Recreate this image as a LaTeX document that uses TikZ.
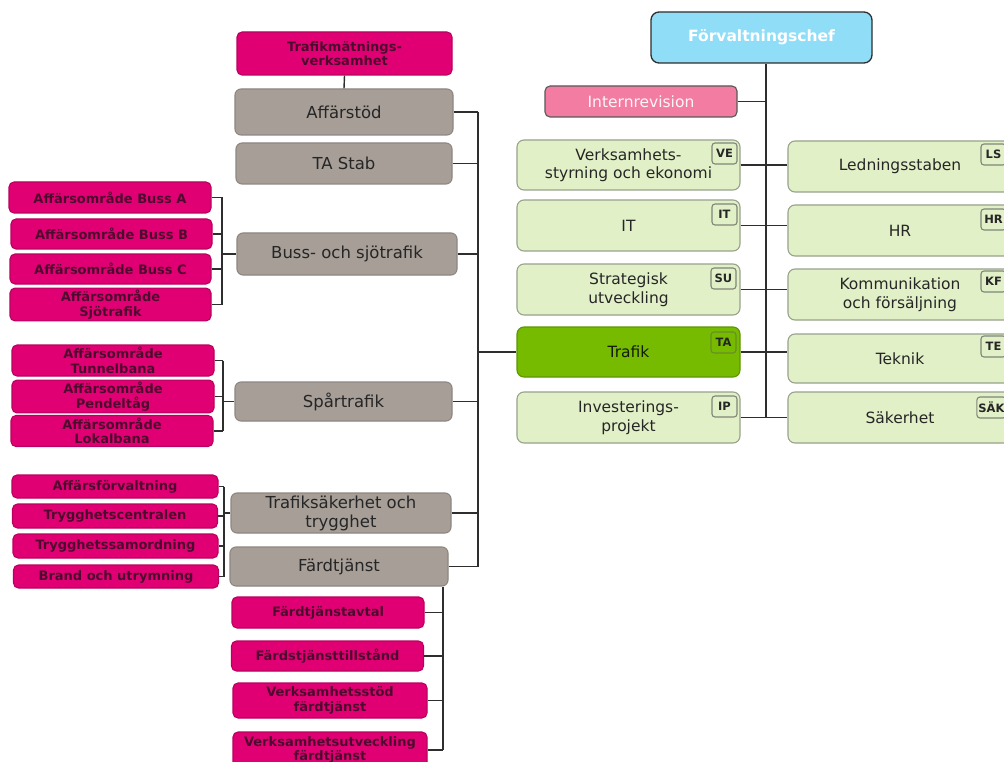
\documentclass[tikz,border=0pt]{standalone}
\usepackage{fontspec}
\setmainfont{DejaVu Sans}
\definecolor{pinkfill}{HTML}{E10074}
\definecolor{pinkborder}{HTML}{B8005E}
\definecolor{pinktext}{HTML}{4E0A2E}
\definecolor{grayfill}{HTML}{A69E97}
\definecolor{grayborder}{HTML}{8E8680}
\definecolor{graytext}{HTML}{262626}
\definecolor{lgreen}{HTML}{E2F0C8}
\definecolor{lgreenborder}{HTML}{98A28C}
\definecolor{badgeborder}{HTML}{7F8676}
\definecolor{dgreen}{HTML}{76BB00}
\definecolor{dgreenborder}{HTML}{5E9600}
\definecolor{cyanfill}{HTML}{90DDF8}
\definecolor{irfill}{HTML}{F37CA2}
\definecolor{linecol}{HTML}{2E2E2E}
\begin{document}
\begin{tikzpicture}[x=1pt,y=-1pt,
  box/.style={rounded corners=5pt, inner sep=2pt, align=center, draw, line width=1.1pt},
  pinkbox/.style={box, fill=pinkfill, draw=pinkborder, text=pinktext,
     font=\bfseries\fontsize{13}{14.5}\selectfont},
  graybox/.style={box, rounded corners=6pt, fill=grayfill, draw=grayborder, text=graytext,
     font=\fontsize{16.5}{19}\selectfont},
  greenbox/.style={box, rounded corners=7pt, fill=lgreen, draw=lgreenborder, text=graytext,
     font=\fontsize{15.5}{18.5}\selectfont},
  trafbox/.style={greenbox, fill=dgreen, draw=dgreenborder, text=black!85!dgreen},
  badge/.style={rounded corners=3pt, draw=badgeborder, fill=lgreen, line width=1.1pt,
     text=graytext, inner sep=1.5pt, minimum width=25, minimum height=21,
     font=\bfseries\fontsize{11.5}{12}\selectfont, anchor=north east},
  conn/.style={draw=linecol, line width=1.4pt}
]
\clip (0,0) rectangle (1004,762);
\fill[white] (0,0) rectangle (1004,762);

% ---------- top right ----------
\node[box, rounded corners=8pt, fill=cyanfill, draw=linecol, text=white, line width=1.3pt,
  minimum width=221, minimum height=51, font=\bfseries\fontsize{15.5}{18}\selectfont]
  (fc) at (761.5,37.5) {Förvaltningschef};
\node[box, fill=irfill, draw=linecol!80, text=white!92!irfill, minimum width=192, minimum height=31,
  font=\fontsize{15.5}{18}\selectfont] (ir) at (641,101.5) {Internrevision};

\node[greenbox, minimum width=223, minimum height=50] (ve) at (628.5,165) {Verksamhets-\\styrning och ekonomi};
\node[greenbox, minimum width=223, minimum height=51] (it) at (628.5,225.5) {IT};
\node[greenbox, minimum width=223, minimum height=51] (su) at (628.5,289.5) {Strategisk\\utveckling};
\node[trafbox, minimum width=223, minimum height=50] (tr) at (628.5,352) {Trafik};
\node[greenbox, minimum width=223, minimum height=51] (ip) at (628.5,417.5) {Investerings-\\projekt};

\node[badge] (veb) at ([xshift=-3pt,yshift=-3pt]ve.north east) {VE};
\node[badge] (itb) at ([xshift=-3pt,yshift=-4pt]it.north east) {IT};
\node[badge] (sub) at ([xshift=-4pt,yshift=-4pt]su.north east) {SU};
\node[badge, fill=dgreen, draw=dgreenborder!70!gray] (trb) at ([xshift=-4pt,yshift=-5pt]tr.north east) {TA};
\node[badge] (ipb) at ([xshift=-3pt,yshift=-4pt]ip.north east) {IP};

\node[greenbox, minimum width=224, minimum height=51] (ls) at (900,166.5) {Ledningsstaben};
\node[greenbox, minimum width=224, minimum height=51] (hr) at (900,230.5) {HR};
\node[greenbox, minimum width=224, minimum height=51] (kf) at (900,294.5) {Kommunikation\\och försäljning};
\node[greenbox, minimum width=224, minimum height=49] (te) at (900,358.5) {Teknik};
\node[greenbox, minimum width=224, minimum height=51] (sak) at (900,417.5) {Säkerhet};

\node[badge] (lsb) at ([xshift=-6pt,yshift=-3pt]ls.north east) {LS};
\node[badge] (hrb) at ([xshift=-6pt,yshift=-4pt]hr.north east) {HR};
\node[badge] (kfb) at ([xshift=-6pt,yshift=-2pt]kf.north east) {KF};
\node[badge] (teb) at ([xshift=-6pt,yshift=-2pt]te.north east) {TE};
\node[badge] (sakb) at ([xshift=-6pt,yshift=-5pt]sak.north east) {SÄK};

\coordinate (vt) at ([xshift=4.5pt]fc.south);
\draw[conn] (vt) -- (vt |- ip.east);
\draw[conn] (ir.east) -- (vt |- ir.east);
\draw[conn] (ve.east) -- (ls.west |- ve.east);
\draw[conn] (it.east) -- (hr.west |- it.east);
\draw[conn] (su.east) -- (kf.west |- su.east);
\draw[conn] (tr.east) -- (te.west |- tr.east);
\draw[conn] (ip.east) -- (sak.west |- ip.east);

% ---------- gray column ----------
\node[pinkbox, minimum width=215, minimum height=43] (tm) at (344.5,53.5) {Trafikmätnings-\\verksamhet};
\node[graybox, minimum width=218, minimum height=46] (aff) at (344,112) {Affärstöd};
\node[graybox, minimum width=216, minimum height=41] (tas) at (344,163.5) {TA Stab};
\node[graybox, minimum width=220, minimum height=42] (bus) at (347,254) {Buss- och sjötrafik};
\node[graybox, minimum width=217, minimum height=39] (spa) at (343.5,401.5) {Spårtrafik};
\node[graybox, minimum width=220, minimum height=40] (tsk) at (341,513) {Trafiksäkerhet och\\trygghet};
\node[graybox, minimum width=218, minimum height=39] (fard) at (339,566.5) {Färdtjänst};

\draw[conn] (tm.south) -- (aff.north);

\coordinate (tk) at (478,112);
\draw[conn] (tk |- aff.east) -- (tk |- fard.east);
\draw[conn] (aff.east) -- (tk |- aff.east);
\draw[conn] (tas.east) -- (tk |- tas.east);
\draw[conn] (bus.east) -- (tk |- bus.east);
\draw[conn] (spa.east) -- (tk |- spa.east);
\draw[conn] (tsk.east) -- (tk |- tsk.east);
\draw[conn] (fard.east) -- (tk |- fard.east);
\draw[conn] (tk |- tr.west) -- (tr.west);

% ---------- Buss group ----------
\node[pinkbox, minimum width=202, minimum height=31] (ba) at (110,197.5) {Affärsområde Buss A};
\node[pinkbox, minimum width=201, minimum height=30] (bb) at (111.5,234) {Affärsområde Buss B};
\node[pinkbox, minimum width=201, minimum height=30] (bc) at (110.5,269) {Affärsområde Buss C};
\node[pinkbox, minimum width=201, minimum height=31] (bs) at (110.5,304.5) {Affärsområde\\Sjötrafik};
\coordinate (bk) at (222,200);
\draw[conn] (bk |- ba.east) -- (bk |- bs.east);
\draw[conn] (ba.east) -- (bk |- ba.east);
\draw[conn] (bb.east) -- (bk |- bb.east);
\draw[conn] (bc.east) -- (bk |- bc.east);
\draw[conn] (bs.east) -- (bk |- bs.east);
\draw[conn] (bk |- bus.west) -- (bus.west);

% ---------- Spår group ----------
\node[pinkbox, minimum width=202, minimum height=31] (st) at (113,360.5) {Affärsområde\\Tunnelbana};
\node[pinkbox, minimum width=202, minimum height=31] (sp) at (113,396.5) {Affärsområde\\Pendeltåg};
\node[pinkbox, minimum width=202, minimum height=31] (sl) at (112,431) {Affärsområde\\Lokalbana};
\coordinate (sk) at (223,360);
\draw[conn] (sk |- st.east) -- (sk |- sl.east);
\draw[conn] (st.east) -- (sk |- st.east);
\draw[conn] (sp.east) -- (sk |- sp.east);
\draw[conn] (sl.east) -- (sk |- sl.east);
\draw[conn] (sk |- spa.west) -- (spa.west);

% ---------- Trafiksäkerhet group ----------
\node[pinkbox, minimum width=206, minimum height=23] (af) at (115,486.5) {Affärsförvaltning};
\node[pinkbox, minimum width=205, minimum height=24] (tc) at (115,516) {Trygghetscentralen};
\node[pinkbox, minimum width=205, minimum height=24] (ts) at (115.5,546) {Trygghetssamordning};
\node[pinkbox, minimum width=205, minimum height=23] (bu) at (116,576.5) {Brand och utrymning};
\coordinate (tkk) at (224,486);
\draw[conn] (tkk |- af.east) -- (tkk |- bu.east);
\draw[conn] (af.east) -- (tkk |- af.east);
\draw[conn] (tc.east) -- (tkk |- tc.east);
\draw[conn] (ts.east) -- (tkk |- ts.east);
\draw[conn] (bu.east) -- (tkk |- bu.east);
\draw[conn] (tkk |- tsk.west) -- (tsk.west);

% ---------- Färdtjänst group ----------
\node[pinkbox, minimum width=192, minimum height=31] (fa) at (328,612.5) {Färdtjänstavtal};
\node[pinkbox, minimum width=192, minimum height=30] (ft) at (327.5,656) {Färdstjänsttillstånd};
\node[pinkbox, minimum width=194, minimum height=35] (fs) at (330,700.5) {Verksamhetsstöd\\färdtjänst};
\node[pinkbox, minimum width=194, minimum height=36] (fu) at (330,750) {Verksamhetsutveckling\\färdtjänst};
\coordinate (fv) at (443,586);
\draw[conn] (fard.south -| fv) -- (fv |- fu.east);
\draw[conn] (fa.east) -- (fv |- fa.east);
\draw[conn] (ft.east) -- (fv |- ft.east);
\draw[conn] (fs.east) -- (fv |- fs.east);
\draw[conn] (fu.east) -- (fv |- fu.east);
\end{tikzpicture}
\end{document}
